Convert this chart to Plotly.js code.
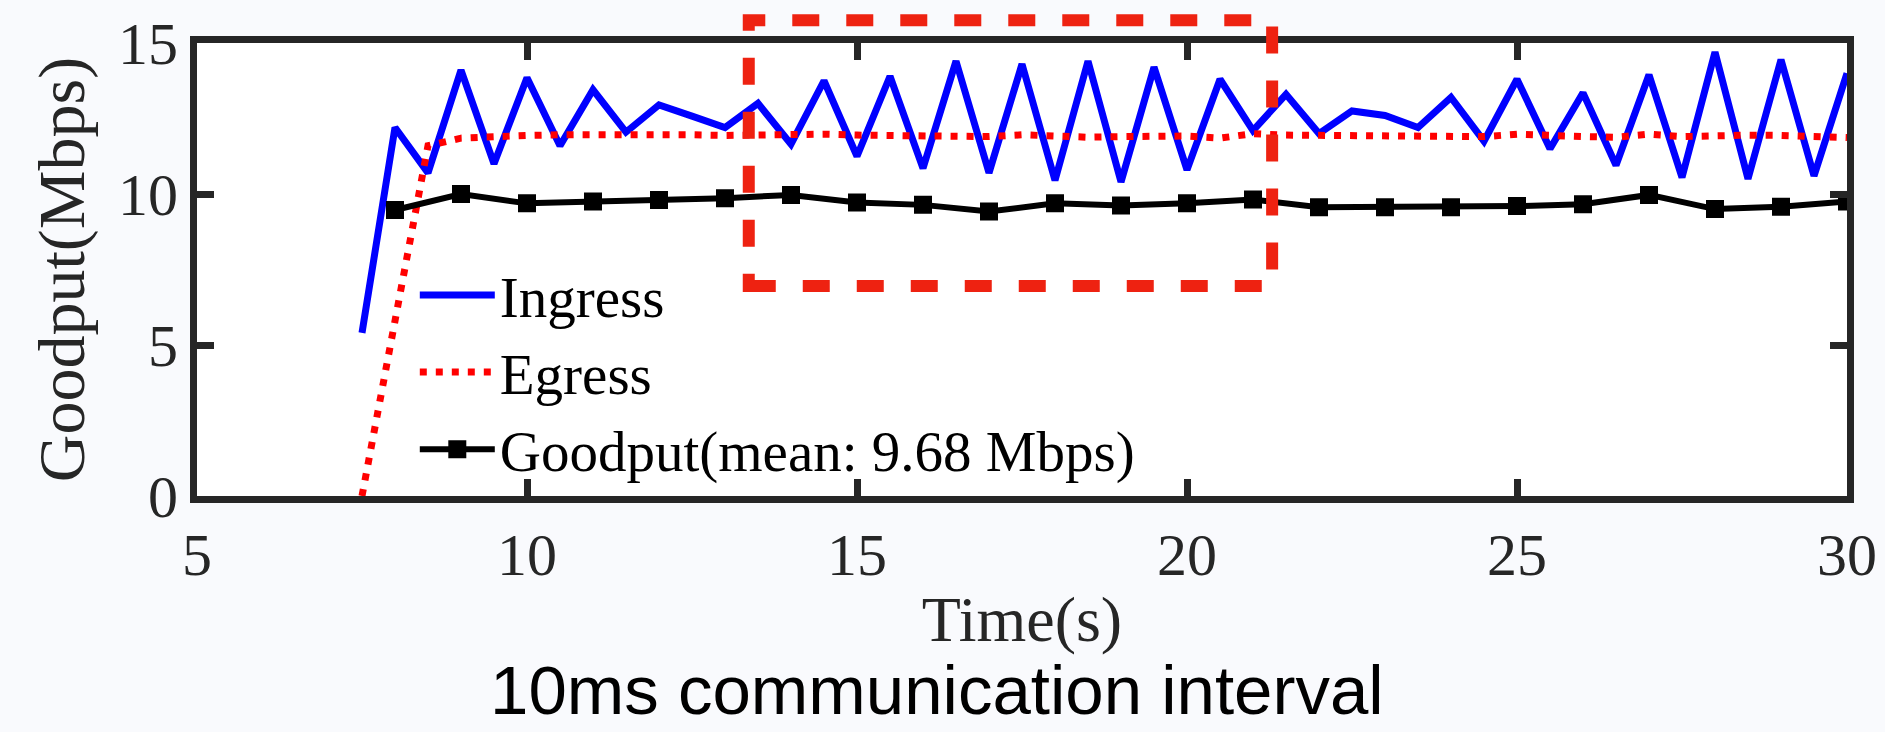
<!DOCTYPE html>
<html>
<head>
<meta charset="utf-8">
<script src="https://cdn.plot.ly/plotly-3.0.1.min.js"></script>
<style>
  html, body { margin: 0; padding: 0; background: #f9fafd; }
  #chart { width: 1885px; height: 732px; }
</style>
</head>
<body>
<div id="chart"></div>
<script>
// ---- data ----
const halfSecondTimes = [7.5, 8, 8.5, 9, 9.5, 10, 10.5, 11, 11.5, 12, 12.5, 13, 13.5, 14, 14.5, 15, 15.5, 16, 16.5, 17, 17.5, 18, 18.5, 19, 19.5, 20, 20.5, 21, 21.5, 22, 22.5, 23, 23.5, 24, 24.5, 25, 25.5, 26, 26.5, 27, 27.5, 28, 28.5, 29, 29.5, 30];
const ingress = [5.4, 12.2, 10.7, 14.1, 11.0, 13.85, 11.6, 13.45, 12.05, 12.95, 12.58, 12.2, 13.0, 11.65, 13.75, 11.25, 13.9, 10.85, 14.4, 10.7, 14.3, 10.45, 14.4, 10.4, 14.2, 10.8, 13.8, 12.1, 13.3, 12.0, 12.75, 12.6, 12.2, 13.2, 11.75, 13.8, 11.5, 13.35, 10.95, 13.95, 10.55, 14.7, 10.5, 14.45, 10.6, 14.0];
const egress = [0, 5.85, 11.6, 11.85, 11.92, 11.94, 11.96, 11.97, 11.96, 11.97, 11.96, 11.94, 11.96, 11.96, 11.98, 11.95, 11.94, 11.95, 11.95, 11.9, 11.96, 11.9, 11.88, 11.9, 11.92, 11.92, 11.85, 12.0, 11.95, 11.95, 11.9, 11.95, 11.9, 11.95, 11.9, 11.98, 11.92, 11.9, 11.88, 11.98, 11.9, 11.95, 11.95, 11.94, 11.92, 11.87];
const secondTimes = [8, 9, 10, 11, 12, 13, 14, 15, 16, 17, 18, 19, 20, 21, 22, 23, 24, 25, 26, 27, 28, 29, 30];
const goodput = [9.47, 10.0, 9.69, 9.75, 9.80, 9.86, 9.97, 9.72, 9.64, 9.42, 9.69, 9.62, 9.69, 9.82, 9.56, 9.56, 9.56, 9.60, 9.66, 9.97, 9.50, 9.58, 9.75];
const seriesNames = ["Ingress", "Egress", "Goodput(mean: 9.68 Mbps)"];
const xTicks = [5, 10, 15, 20, 25, 30];
const yTicks = [0, 5, 10, 15];
const highlightX = [13.36, 21.29];   // time range of the highlighted box
const highlightY = [6.95, 15.75];    // goodput range of the highlighted box
const chartTitle = "10ms communication interval";

const yRange = [0, 15];
const xRange = [5, 30];

const serif = "Liberation Serif, Times New Roman, serif";
const axisColor = "#262626";

const traces = [
  {
    x: halfSecondTimes, y: ingress, name: seriesNames[0], type: "scatter", mode: "lines",
    line: { color: "#0000ff", width: 7 }
  },
  {
    x: halfSecondTimes, y: egress, name: seriesNames[1], type: "scatter", mode: "lines",
    line: { color: "#ff0000", width: 7, dash: "7px,9px" }
  },
  {
    x: secondTimes, y: goodput, name: seriesNames[2], type: "scatter", mode: "lines+markers",
    line: { color: "#000000", width: 6 },
    marker: { symbol: "square", size: 15, color: "#000000", line: { color: "#000000", width: 3 } }
  }
];

const toPaperY = v => (v - yRange[0]) / (yRange[1] - yRange[0]);

const axisCommon = {
  showgrid: false, zeroline: false,
  showline: true, linecolor: axisColor, linewidth: 7, mirror: "ticks",
  ticks: "inside", ticklen: 17, tickwidth: 7, tickcolor: axisColor,
  tickfont: { family: serif, size: 60, color: axisColor }
};

const layout = {
  width: 1885, height: 732,
  paper_bgcolor: "#f9fafd", plot_bgcolor: "#ffffff",
  margin: { l: 197, r: 38, t: 43, b: 236 },
  showlegend: true,
  legend: {
    x: 0.132, y: 0.54, xanchor: "left", yanchor: "top",
    bgcolor: "rgba(0,0,0,0)", borderwidth: 0,
    font: { family: serif, size: 57, color: "#000000" },
    itemwidth: 75, tracegroupgap: 0
  },
  title: {
    text: chartTitle,
    font: { family: "Liberation Sans, Arial, sans-serif", size: 69, color: "#000000" },
    x: 0.497, xanchor: "center", y: 0.057, yanchor: "middle", yref: "container"
  },
  xaxis: Object.assign({}, axisCommon, {
    range: xRange, tickvals: xTicks,
    title: { text: "Time(s)", font: { family: serif, size: 64, color: axisColor }, standoff: 12 }
  }),
  yaxis: Object.assign({}, axisCommon, {
    range: yRange, tickvals: yTicks,
    title: { text: "Goodput(Mbps)", font: { family: serif, size: 66, color: axisColor }, standoff: 14 }
  }),
  shapes: [
    {
      type: "rect", xref: "x", yref: "paper",
      x0: highlightX[0], x1: highlightX[1],
      y0: toPaperY(highlightY[0]), y1: toPaperY(highlightY[1]),
      line: { color: "#ee2211", width: 12, dash: "27px,27px" },
      fillcolor: "rgba(0,0,0,0)", layer: "above"
    }
  ]
};

Plotly.newPlot("chart", traces, layout, { displayModeBar: false, staticPlot: true });
</script>
</body>
</html>
